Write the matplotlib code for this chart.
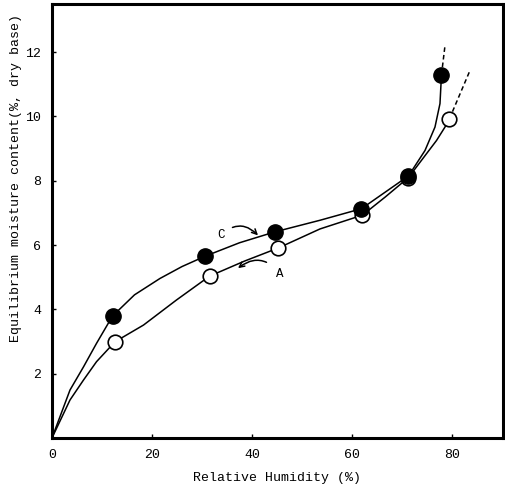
import matplotlib

matplotlib.use("Agg")
import matplotlib.pyplot as plt  # noqa: E402

plt.rcParams["font.family"] = ["Liberation Mono", "DejaVu Sans Mono"]

# measured points (relative humidity %, moisture content %)
c_rh = [12.1, 30.6, 44.6, 61.9, 71.3, 77.9]
c_mc = [3.79, 5.65, 6.41, 7.13, 8.15, 11.3]
a_rh = [12.6, 31.5, 45.3, 62.1, 71.3, 79.5]
a_mc = [2.99, 5.03, 5.91, 6.93, 8.1, 9.93]

# hand-drawn curves
c_curve_x = [0, 3.6, 6.3, 8.9, 12.1, 16.5, 21.6, 26.0, 30.6, 37.5, 44.6, 53.6, 61.9, 66.6, 71.3, 74.6, 76.6, 77.6, 77.9]
c_curve_y = [0, 1.49, 2.21, 2.94, 3.79, 4.45, 4.96, 5.33, 5.65, 6.07, 6.41, 6.77, 7.13, 7.64, 8.15, 8.94, 9.67, 10.4, 11.3]
a_curve_x = [0, 3.6, 6.3, 8.9, 12.6, 18.3, 24.9, 31.5, 38.5, 45.3, 53.6, 62.1, 66.7, 71.3, 74.9, 76.9, 78.6, 79.5]
a_curve_y = [0, 1.18, 1.80, 2.37, 2.99, 3.51, 4.29, 5.03, 5.5, 5.91, 6.5, 6.93, 7.5, 8.1, 8.84, 9.25, 9.67, 9.93]
c_dash_x = [77.9, 78.6]
c_dash_y = [11.3, 12.2]
a_dash_x = [79.5, 83.6]
a_dash_y = [9.93, 11.43]

xticks = [0, 20, 40, 60, 80]
yticks = [2, 4, 6, 8, 10, 12]

fig = plt.figure(figsize=(5.05, 4.92), dpi=100)
ax = fig.add_axes([0.103, 0.11, 0.893, 0.882])

ax.plot(c_curve_x, c_curve_y, color="black", lw=1.1)
ax.plot(a_curve_x, a_curve_y, color="black", lw=1.1)
ax.plot(c_dash_x, c_dash_y, color="black", lw=1.1, ls=(0, (3, 2)))
ax.plot(a_dash_x, a_dash_y, color="black", lw=1.1, ls=(0, (3, 2)))
ax.plot(a_rh, a_mc, "o", ms=10.5, mfc="white", mec="black", mew=1.2, zorder=3)
ax.plot(c_rh, c_mc, "o", ms=11, mfc="black", mec="black", zorder=4)

ax.annotate("C", xy=(41.2, 6.3), xytext=(33.8, 6.3), fontsize=9, ha="center", va="center",
            arrowprops=dict(arrowstyle="->", lw=1.1, connectionstyle="arc3,rad=-0.5", shrinkA=4, shrinkB=0))
ax.annotate("A", xy=(37.2, 5.28), xytext=(45.6, 5.1), fontsize=9, ha="center", va="center",
            arrowprops=dict(arrowstyle="->", lw=1.1, connectionstyle="arc3,rad=0.5", shrinkA=6, shrinkB=0))

ax.set_xlim(0, 90.2)
ax.set_ylim(0, 13.5)
ax.set_xticks(xticks)
ax.set_yticks(yticks)
ax.tick_params(direction="in", length=3, width=1, labelsize=9.5, pad=8)
for s in ax.spines.values():
    s.set_linewidth(2.2)

ax.set_xlabel("Relative Humidity (%)", fontsize=9.5, labelpad=8)
ax.set_ylabel("Equilibrium moisture content(%, dry base)", fontsize=9.5)
ax.yaxis.set_label_coords(-0.067, 0.6)

fig.savefig("out.png", dpi=100)
plt.close(fig)
